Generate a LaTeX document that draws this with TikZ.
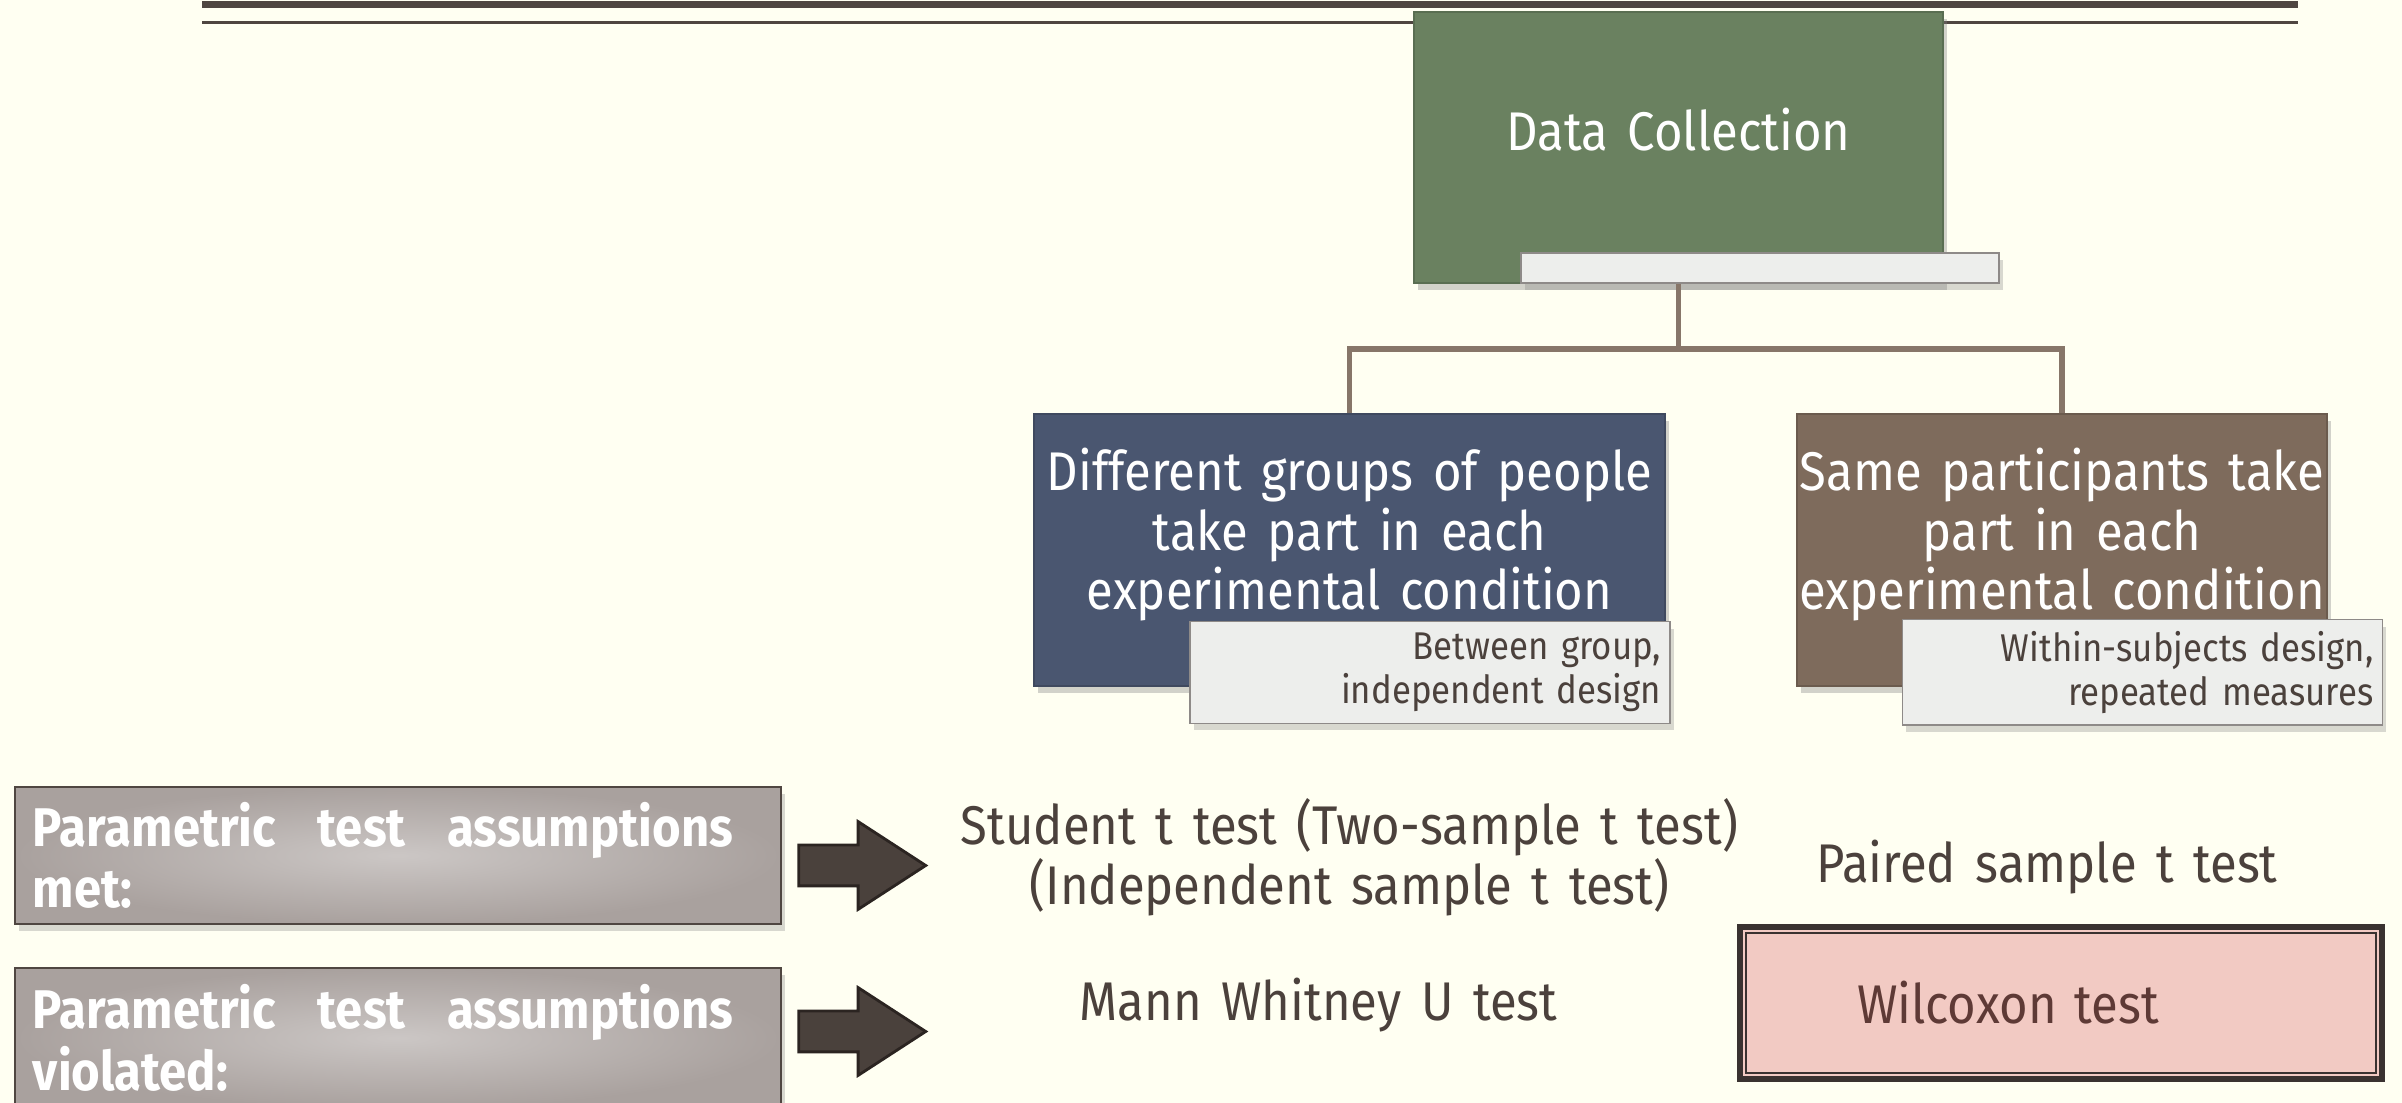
\documentclass[tikz,border=0pt]{standalone}
\usepackage{fontspec}
\setmainfont{Fira Sans}[FakeStretch=0.9,WordSpace=1.5]
\usetikzlibrary{positioning,shapes.arrows,shadows}
\definecolor{pagebg}{HTML}{FFFFF2}
\definecolor{rule}{HTML}{4F4641}
\definecolor{dcgreen}{HTML}{6A8160}
\definecolor{grpblue}{HTML}{4A5670}
\definecolor{subbrown}{HTML}{7E6B5C}
\definecolor{tagfill}{HTML}{EDEEEC}
\definecolor{tagline}{HTML}{8E8A88}
\definecolor{inktext}{HTML}{4B413C}
\definecolor{assgray}{HTML}{A9A19E}
\definecolor{linkbrown}{HTML}{877669}
\definecolor{arrowfill}{HTML}{4A413C}
\definecolor{arrowline}{HTML}{2B2421}
\definecolor{wilcfill}{HTML}{F2CAC3}
\definecolor{wilcline}{HTML}{3A3230}
\definecolor{wilctext}{HTML}{5E3A36}

\begin{document}
\begin{tikzpicture}[on grid ,
font=\fontsize{15.5}{17}\selectfont ,
colbox/.style ={ rectangle ,draw=#1!85!black ,fill=#1 ,text=white ,align=center ,
inner sep=0pt ,drop shadow={shadow xshift=1pt ,shadow yshift=-2pt ,opacity=0.35}} ,
tag/.style ={ rectangle ,draw=tagline ,fill=tagfill ,text=inktext ,align=right ,
font=\fontsize{11}{12.4}\selectfont ,minimum height=0.95cm ,text width=4.62cm ,
inner xsep=0.09cm ,drop shadow={shadow xshift=1pt ,shadow yshift=-2pt ,opacity=0.3}} ,
bar/.style ={ rectangle ,draw=tagline ,fill=tagfill ,inner sep=0pt ,
drop shadow={shadow xshift=1pt ,shadow yshift=-2pt ,opacity=0.3}} ,
assume/.style ={ rectangle ,draw=rule ,inner color=assgray!60!white ,outer color=assgray ,
text=white ,font=\bfseries\fontsize{15.5}{17.5}\selectfont ,align=left ,text width=7.3cm ,
inner xsep=0.18cm ,minimum height=1.37cm ,
drop shadow={shadow xshift=1pt ,shadow yshift=-2pt ,opacity=0.3}} ,
bigarrow/.style ={ single arrow ,fill=arrowfill ,draw=arrowline ,line width=0.8pt ,
minimum height=1.27cm ,inner xsep=0pt ,inner ysep=0.19cm ,
single arrow head extend=0.235cm ,single arrow tip angle=66} ,
plain/.style ={ text=inktext ,align=center} ,
pick/.style ={ rectangle ,draw=wilcline ,line width=0.06cm ,fill=wilcfill ,text=wilctext ,
align=left ,text width=4.08cm ,inner xsep=1.17cm ,minimum height=1.52cm} ,
link/.style ={ draw=linkbrown ,line width=1.5pt}]
\path[use as bounding box] (0,0) rectangle (24.02,11.03);
\clip (0,0) rectangle (24.02,11.03);
\fill[pagebg] (0,0) rectangle (24.02,11.03);
\draw[rule ,line width=0.07cm] (2.02,10.985) -- (22.98,10.985);
\draw[rule ,line width=0.035cm] (2.02,10.805) -- (22.98,10.805);

\node[colbox=dcgreen ,minimum width=5.29cm ,minimum height=2.71cm ,text depth=0.36cm] (dc) at (16.785,9.555) {Data Collection};
\node[bar ,minimum width=4.78cm ,minimum height=0.30cm] (dcbar) [below right = 1.205cm and 0.815cm of dc] {};
\node[colbox=grpblue ,minimum width=6.31cm ,minimum height=2.72cm ,text depth=0.42cm] (diff) [below left = 4.025cm and 3.29cm of dc] {Different groups of people\\take part in each\\experimental condition};
\node[colbox=subbrown ,minimum width=5.30cm ,minimum height=2.72cm ,text depth=0.42cm] (same) [below right = 4.025cm and 3.835cm of dc] {Same participants take\\part in each\\experimental condition};
\node[tag] (betw) [below right = 1.225cm and 0.805cm of diff] {Between group,\\independent design};
\node[tag] (within) [below right = 1.225cm and 0.805cm of same] {Within-subjects design,\\repeated measures};

\coordinate (bus) at (16.80,7.54);
\draw[link] (dc.south) -- (dc.south |- bus) -| (diff.north);
\draw[link] (dc.south |- bus) -| (same.north);

\node[assume] (met) at (3.98,2.475) {\makebox[7.0cm]{Parametric\hfill test\hfill assumptions}\\met:};
\node[assume ,minimum height=1.40cm] (viol) [below = 1.825cm of met] {\makebox[7.0cm]{Parametric\hfill test\hfill assumptions}\\violated:};
\node[bigarrow] (arr1) [below right = 0.1cm and 4.485cm of met] {};
\node[bigarrow] (arr2) [above right = 0.065cm and 4.485cm of viol] {};

\node[plain] (student) [below = 3.07cm of diff] {Student t test (Two-sample t test)\\(Independent sample t test)};
\node[plain] (mann) [below left = 1.48cm and 0.31cm of student] {Mann Whitney U test};
\node[plain] (paired) [below left = 3.17cm and 0.15cm of same] {Paired sample t test};
\node[pick] (wilc) [below right = 1.36cm and 0.14cm of paired] {Wilcoxon test};
\draw[wilcline ,line width=0.4pt] ([xshift=0.09cm ,yshift=-0.09cm]wilc.north west) rectangle ([xshift=-0.09cm ,yshift=0.09cm]wilc.south east);
\end{tikzpicture}
\end{document}
